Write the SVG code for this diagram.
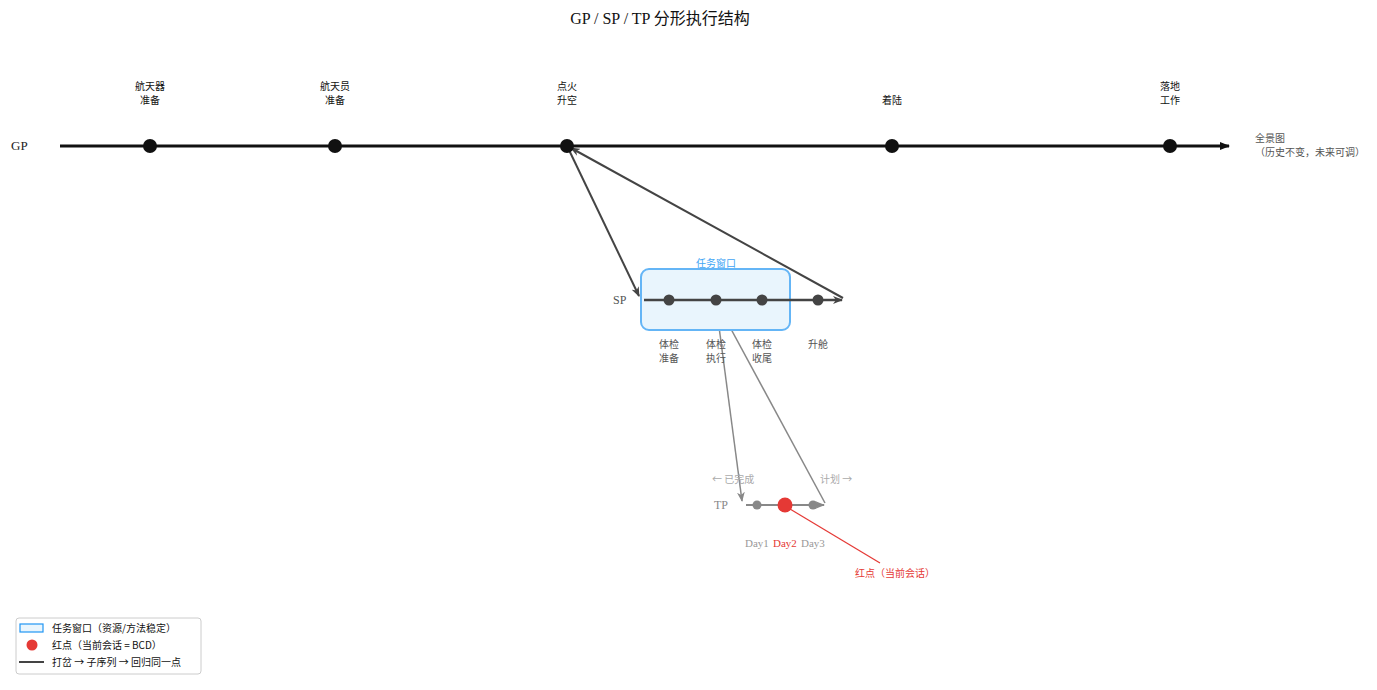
<svg xmlns="http://www.w3.org/2000/svg" width="1377" height="690" viewBox="0 0 1377 690">
<style>
.s{font-family:"Liberation Serif","Noto Sans CJK SC",serif}
.c{font-family:"Noto Sans CJK SC","Liberation Sans",sans-serif;font-size:10px}
</style>
<defs>
<marker id="ak" markerWidth="10" markerHeight="8" refX="9" refY="4" orient="auto" markerUnits="userSpaceOnUse"><path d="M0,0 L10,4 L0,8 Z" fill="#111"/></marker>
<marker id="ad" markerWidth="10" markerHeight="8" refX="9" refY="4" orient="auto" markerUnits="userSpaceOnUse"><path d="M0,0 L10,4 L0,8 L3,4 Z" fill="#444"/></marker>
<marker id="ag" markerWidth="10" markerHeight="8" refX="9" refY="4" orient="auto" markerUnits="userSpaceOnUse"><path d="M0,0 L10,4 L0,8 L3,4 Z" fill="#888"/></marker>
</defs>
<rect width="1377" height="690" fill="#fff"/>
<text class="s" x="660" y="24" font-size="16" text-anchor="middle" fill="#111">GP / SP / TP  分形执行结构</text>
<g id="connectors" fill="none">
<line x1="569" y1="150" x2="639" y2="296" stroke="#444" stroke-width="2" marker-end="url(#ad)"/>
<line x1="843" y1="298" x2="571" y2="148" stroke="#444" stroke-width="2" marker-end="url(#ad)"/>
<line x1="716" y1="304" x2="742" y2="501" stroke="#888" stroke-width="1.5" marker-end="url(#ag)"/>
<line x1="825" y1="503" x2="718" y2="305" stroke="#888" stroke-width="1.5" marker-end="url(#ag)"/>
<line x1="790" y1="509" x2="880" y2="563" stroke="#e53935" stroke-width="1.2"/>
</g>
<g id="gp">
<text class="s" x="11" y="150" font-size="13" fill="#222">GP</text>
<line x1="60" y1="146" x2="1229" y2="146" stroke="#111" stroke-width="3" marker-end="url(#ak)"/>
<g fill="#111"><circle cx="150" cy="146" r="7"/><circle cx="335" cy="146" r="7"/><circle cx="567" cy="146" r="7"/><circle cx="892" cy="146" r="7"/><circle cx="1170" cy="146" r="7"/></g>
<g class="c" text-anchor="middle" fill="#111">
<text x="150" y="90">航天器</text><text x="150" y="104">准备</text>
<text x="335" y="90">航天员</text><text x="335" y="104">准备</text>
<text x="567" y="90">点火</text><text x="567" y="104">升空</text>
<text x="892" y="104">着陆</text>
<text x="1170" y="90">落地</text><text x="1170" y="104">工作</text>
</g>
<text class="c" x="1255" y="142" fill="#555">全景图</text>
<text class="c" x="1255" y="156" fill="#555">（历史不变，未来可调）</text>
</g>
<g id="sp">
<rect x="641" y="269" width="149" height="61" rx="8" fill="#e9f5fd" stroke="#64b5f6" stroke-width="2"/>
<text class="c" x="716" y="267" text-anchor="middle" fill="#42a5f5">任务窗口</text>
<text class="s" x="613" y="304" font-size="12" fill="#555">SP</text>
<line x1="644" y1="300" x2="842" y2="300" stroke="#444" stroke-width="2.5" marker-end="url(#ad)"/>
<g fill="#444"><circle cx="669" cy="300" r="5.5"/><circle cx="716" cy="300" r="5.5"/><circle cx="762" cy="300" r="5.5"/><circle cx="818" cy="300" r="5.5"/></g>
<g class="c" text-anchor="middle" fill="#555">
<text x="669" y="348">体检</text><text x="669" y="362">准备</text>
<text x="716" y="348">体检</text><text x="716" y="362">执行</text>
<text x="762" y="348">体检</text><text x="762" y="362">收尾</text>
<text x="818" y="348">升舱</text>
</g>
</g>
<g id="tp">
<text class="c" x="712" y="483" font-size="9" fill="#aaa">← 已完成</text>
<text class="c" x="820" y="483" font-size="9" fill="#aaa">计划 →</text>
<text class="s" x="714" y="509" font-size="12" fill="#888">TP</text>
<line x1="746" y1="505" x2="824" y2="505" stroke="#888" stroke-width="2" marker-end="url(#ag)"/>
<circle cx="757" cy="505" r="4.5" fill="#888"/><circle cx="813" cy="505" r="4.5" fill="#888"/>
<circle cx="785" cy="505" r="7.5" fill="#e53935"/>
<text class="s" x="745" y="547" font-size="11" fill="#999">Day1</text>
<text class="s" x="773" y="547" font-size="11" fill="#e53935">Day2</text>
<text class="s" x="801" y="547" font-size="11" fill="#999">Day3</text>
<text class="c" x="855" y="577" fill="#e53935">红点（当前会话）</text>
</g>
<g id="legend">
<rect x="16" y="618" width="185" height="56" rx="3" fill="#fff" stroke="#ccc"/>
<rect x="20" y="624" width="23" height="8" fill="#e9f5fd" stroke="#2196f3" stroke-width="1.2"/>
<text class="c" x="52" y="632" fill="#111">任务窗口（资源/方法稳定）</text>
<circle cx="32" cy="645" r="5.5" fill="#e53935"/>
<text class="c" x="52" y="649" fill="#111">红点（当前会话 = BCD）</text>
<line x1="19" y1="662" x2="44" y2="662" stroke="#444" stroke-width="2"/>
<text class="c" x="52" y="666" fill="#111">打岔 → 子序列 → 回归同一点</text>
</g>
</svg>
